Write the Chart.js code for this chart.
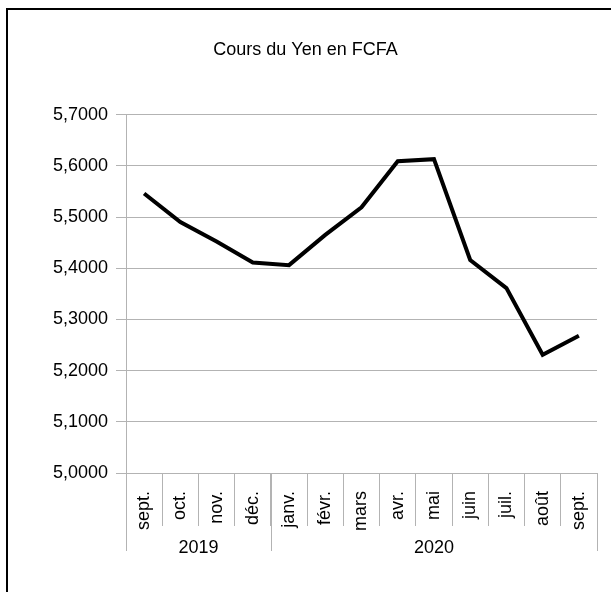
<!DOCTYPE html>
<html>
<head>
<meta charset="utf-8">
<script src="https://cdn.jsdelivr.net/npm/chart.js@4/dist/chart.umd.min.js"></script>
<style>
    html, body { margin: 0; padding: 0; background: #fff; overflow: hidden; }
    #wrap { position: relative; width: 611px; height: 592px; }
    #frame { position: absolute; left: 6px; top: 8px; width: 700px; height: 700px;
             border-left: 2px solid #000; border-top: 2px solid #000; }
    #chart { position: absolute; left: 0; top: 0; }
</style>
</head>
<body>
<div id="wrap">
    <div id="frame"></div>
    <canvas id="chart" width="611" height="592"></canvas>
</div>
<script>
const months = ["sept.", "oct.", "nov.", "déc.", "janv.", "févr.", "mars", "avr.", "mai", "juin", "juil.", "août", "sept."];
const years = ["2019", "2020"];
const monthsPerYear = [4, 9];
const yenRate = [5.546, 5.490, 5.452, 5.411, 5.406, 5.465, 5.519, 5.609, 5.613, 5.416, 5.361, 5.231, 5.268];
const yMin = 5.0, yMax = 5.7, yStep = 0.1;

const FONT = "'Liberation Sans', Arial, sans-serif";
const GRID = "#b3b3b3";

// second row of the category axis: years with their own separators
const yearRow = {
    id: "yearRow",
    afterDraw(chart) {
        const x = chart.scales.x;
        const ctx = chart.ctx;
        const half = (x.getPixelForValue(1) - x.getPixelForValue(0)) / 2;
        const top = chart.chartArea.bottom;
        ctx.save();
        ctx.strokeStyle = GRID;
        ctx.lineWidth = 1;
        ctx.fillStyle = "#000";
        ctx.font = "18px " + FONT;
        ctx.textAlign = "center";
        ctx.textBaseline = "middle";
        let start = 0;
        years.forEach((yr, i) => {
            const left = x.getPixelForValue(start) - half;
            const right = x.getPixelForValue(start + monthsPerYear[i] - 1) + half;
            [left, right].forEach(px => {
                const p = Math.round(px) + 0.5;
                ctx.beginPath();
                ctx.moveTo(p, top);
                ctx.lineTo(p, top + 78);
                ctx.stroke();
            });
            ctx.fillText(yr, (left + right) / 2, top + 75);
            start += monthsPerYear[i];
        });
        ctx.restore();
    }
};

new Chart(document.getElementById("chart"), {
    type: "line",
    data: {
        labels: months,
        datasets: [{
            data: yenRate,
            borderColor: "#000",
            borderWidth: 4,
            pointRadius: 0,
            tension: 0,
            fill: false
        }]
    },
    options: {
        responsive: false,
        animation: false,
        layout: { padding: 0 },
        plugins: {
            legend: { display: false },
            tooltip: { enabled: false },
            title: {
                display: true,
                text: "Cours du Yen en FCFA",
                color: "#000",
                font: { family: FONT, size: 18, weight: "normal" },
                padding: { top: 39, bottom: 54 }
            }
        },
        scales: {
            x: {
                offset: true,
                grid: { offset: true, drawOnChartArea: false, color: GRID, tickLength: 53 },
                border: { color: GRID },
                ticks: {
                    color: "#000",
                    font: { family: FONT, size: 18 },
                    minRotation: 90,
                    maxRotation: 90,
                    autoSkip: false,
                    padding: -35
                },
                afterFit(scale) { scale.height = 119; }
            },
            y: {
                min: yMin,
                max: yMax,
                grid: { color: GRID, tickLength: 10 },
                border: { color: GRID },
                ticks: {
                    stepSize: yStep,
                    color: "#000",
                    padding: 8,
                    font: { family: FONT, size: 18 },
                    callback: v => v.toFixed(4).replace(".", ",")
                },
                afterFit(scale) { scale.width = 126; }
            },
            // empty right margin so the title stays centred on the whole page
            right: {
                position: "right",
                display: true,
                grid: { display: false },
                border: { display: false },
                ticks: { display: false },
                afterFit(scale) { scale.width = 14; }
            }
        }
    },
    plugins: [yearRow]
});
</script>
</body>
</html>
